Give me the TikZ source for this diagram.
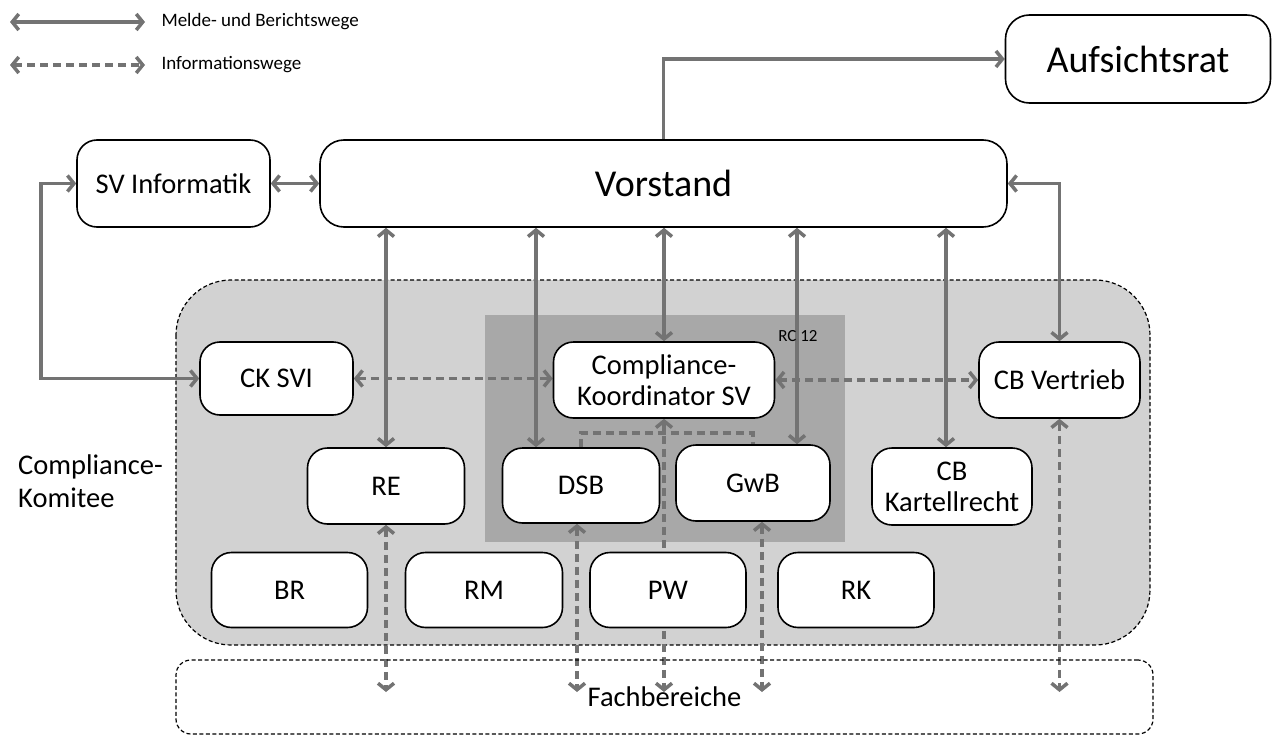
\documentclass[tikz,border=0pt]{standalone}
\usepackage{fontspec}
\setmainfont{Carlito}
\usetikzlibrary{arrows.meta}
\usetikzlibrary{backgrounds}
\definecolor{ln}{RGB}{115, 115, 115}
\definecolor{kom}{RGB}{210, 210, 210}
\definecolor{rc}{RGB}{168, 168, 168}

\tikzset{
  box/.style={draw, fill=white, line width=1.6pt, rounded corners=20pt, align=center,
    inner sep=0pt, font=\fontsize{28.5}{31}\selectfont},
  bigbox/.style={box, rounded corners=24pt, font=\fontsize{38}{44}\selectfont},
  melde/.style={draw=ln, line width=3.5pt, <->},
  info/.style={melde, dash pattern=on 8pt off 5pt},
  border/.style={line width=1.2pt, dash pattern=on 4pt off 2.5pt},
}

\begin{document}
\begin{tikzpicture}[x=1pt, y=-1pt, >={Straight Barb[length=6.5pt, width=16pt]}]
    \useasboundingbox (0,0) rectangle (1278,736);

    % legend
    \coordinate (l1a) at (10,22);
    \coordinate (l1b) at (145,22);
    \coordinate (l2a) at (10,65);
    \coordinate (l2b) at (145,65);
    \node[anchor=west, font=\fontsize{19}{22}\selectfont] (lgmelde) at (158,22) {Melde- und Berichtswege};
    \node[anchor=west, font=\fontsize{19}{22}\selectfont] (lginfo) at (158,65) {Informationswege};

    % top level
    \node[bigbox, minimum width=265pt, minimum height=88pt] (aufsicht) at (1138,59) {Aufsichtsrat};
    \node[bigbox, minimum width=687pt, minimum height=87pt] (vorstand) at (663.5,183.5) {Vorstand};
    \node[box, minimum width=193pt, minimum height=87pt] (svinf) at (173.5,183.5) {SV Informatik};

    % compliance komitee
    \node[box, minimum width=153pt, minimum height=73pt] (cksvi) at (276.5,378.5) {CK SVI};
    \node[box, minimum width=221pt, minimum height=76pt] (koord) at (664,380) {Compliance-\\Koordinator SV};
    \node[box, minimum width=161pt, minimum height=76pt] (cbv) at (1059.5,380) {CB Vertrieb};
    \node[box, minimum width=157pt, minimum height=76pt] (re) at (386,486) {RE};
    \node[box, minimum width=157pt, minimum height=75pt] (dsb) at (581,485.5) {DSB};
    \node[box, minimum width=154pt, minimum height=76pt] (gwb) at (753,483) {GwB};
    \node[box, minimum width=160pt, minimum height=77pt] (cbk) at (952,486.5) {CB\\Kartellrecht};
    \node[box, minimum width=156pt, minimum height=75pt] (br) at (289.5,590) {BR};
    \node[box, minimum width=157pt, minimum height=75pt] (rm) at (484,590) {RM};
    \node[box, minimum width=156pt, minimum height=75pt] (pw) at (668,590) {PW};
    \node[box, minimum width=156pt, minimum height=75pt] (rk) at (856,590) {RK};

    \node[anchor=north west, align=left, inner sep=0pt, font=\fontsize{28.5}{33}\selectfont] (komlabel) at (18,455) {Compliance-\\Komitee};
    \node[font=\fontsize{17}{20}\selectfont, inner sep=0pt] (rclabel) at (798,336) {RC 12};
    \node[border, draw, rounded corners=15pt, minimum width=977pt, minimum height=74pt,
      font=\fontsize{28.5}{31}\selectfont] (fach) at (664.5,697) {Fachbereiche};

    \coordinate (fb) at (0,692);
    \coordinate (br) at (0,433);
    \path (dsb.north) ++(-45,0) coordinate (dsbn);
    \path (gwb.north) ++(44,0) coordinate (gwbn);
    \path (cbk.north) ++(-6,0) coordinate (cbkn);
    \path (dsb.south) ++(-4,0) coordinate (dsbs);
    \path (gwb.south) ++(9,0) coordinate (gwbs);

    \begin{pgfonlayer}{background}
        \draw[border, fill=kom, rounded corners=55pt] (176,280) rectangle (1150,645);
        \fill[rc] (485,315) rectangle (845,542);

        \draw[melde] (l1a) -- (l1b);
        \draw[info] (l2a) -- (l2b);

        % Melde- und Berichtswege
        \draw[melde, ->] (vorstand.north) |- (aufsicht.west);
        \draw[melde] (svinf.east) -- (vorstand.west);
        \draw[melde] (cksvi.west) -- ++(-158,0) |- (svinf.west);
        \draw[melde] (vorstand.east) -| (cbv.north);
        \draw[melde] (re.north) -- (re.north |- vorstand.south);
        \draw[melde] (dsbn) -- (dsbn |- vorstand.south);
        \draw[melde] (koord.north) -- (koord.north |- vorstand.south);
        \draw[melde] (gwbn) -- (gwbn |- vorstand.south);
        \draw[melde] (cbkn) -- (cbkn |- vorstand.south);

        % Informationswege
        \draw[info] (cksvi.east) -- (cksvi.east -| koord.west);
        \draw[info] (koord.east) -- (koord.east -| cbv.west);
        \draw[info, -] (dsb.north) |- (gwb.north |- br) -- (gwb.north);
        \draw[info] (koord.south) -- (koord.south |- fb);
        \draw[info] (re.south) -- (re.south |- fb);
        \draw[info] (dsbs) -- (dsbs |- fb);
        \draw[info] (gwbs) -- (gwbs |- fb);
        \draw[info] (cbv.south) -- (cbv.south |- fb);
    \end{pgfonlayer}
\end{tikzpicture}
\end{document}
